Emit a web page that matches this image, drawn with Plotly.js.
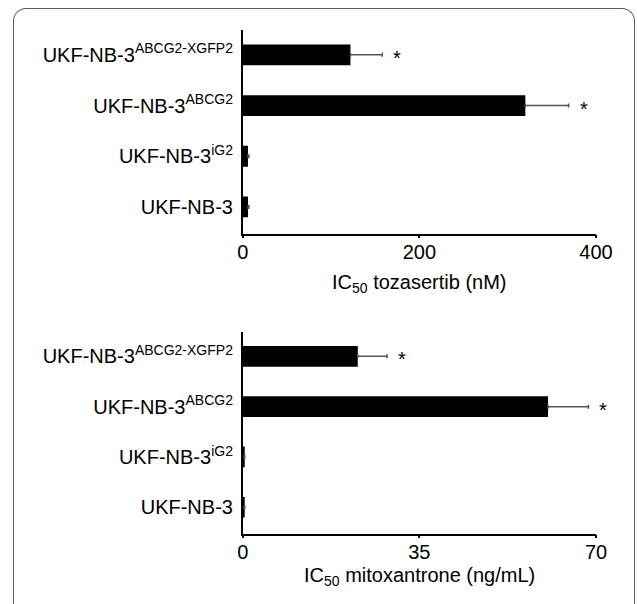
<!DOCTYPE html>
<html>
<head>
<meta charset="utf-8">
<script src="https://cdn.plot.ly/plotly-3.0.1.min.js"></script>
<style>
html, body { margin: 0; padding: 0; background: #fff; overflow: hidden; }
#wrap { position: relative; width: 637px; height: 604px; }
#frame { position: absolute; left: 13px; top: 8px; width: 620px; height: 700px;
  border: 1.5px solid #5e5e5e; border-bottom: none; border-radius: 13px 13px 0 0;
  pointer-events: none; box-sizing: content-box; z-index: 0; }
#chart { position: absolute; left: 0; top: 0; width: 637px; height: 604px; z-index: 1; }
</style>
</head>
<body>
<div id="wrap">
  <div id="frame"></div>
  <div id="chart"></div>
</div>
<script>
// Cell lines (bottom to top)
var cellLines = [
  'UKF-NB-3',
  'UKF-NB-3<sup>iG2</sup>',
  'UKF-NB-3<sup>ABCG2</sup>',
  'UKF-NB-3<sup>ABCG2-XGFP2</sup>'
];
// IC50 tozasertib (nM)
var tozasertib = [6, 6, 320, 122];
var tozasertibErr = [1, 1, 49, 36];
// IC50 mitoxantrone (ng/mL)
var mitoxantrone = [0.3, 0.3, 60.5, 22.8];
var mitoxantroneErr = [0.1, 0.1, 8, 5.8];
// significance flags
var significant = [false, false, true, true];

var tozTicks = [0, 200, 400];
var mitoTicks = [0, 35, 70];

var FONT = 'Arial, Liberation Sans, sans-serif';

function barTrace(vals, errs, xa, ya) {
  return {
    type: 'bar', orientation: 'h',
    y: cellLines, x: vals,
    xaxis: xa, yaxis: ya,
    width: 0.41,
    marker: { color: '#000000', line: { width: 0 } },
    error_x: {
      type: 'data', symmetric: false,
      array: errs, arrayminus: errs.map(function(){ return 0; }),
      color: '#555555', thickness: 1.5, width: 2
    },
    hoverinfo: 'x+y', showlegend: false
  };
}

var traces = [
  barTrace(tozasertib, tozasertibErr, 'x', 'y'),
  barTrace(mitoxantrone, mitoxantroneErr, 'x2', 'y2')
];

var annotations = [];
function addStars(vals, errs, xref, yref) {
  for (var i = 0; i < vals.length; i++) {
    if (!significant[i]) continue;
    annotations.push({
      xref: xref, yref: yref, x: vals[i] + errs[i], y: i,
      text: '*', showarrow: false, xanchor: 'left', yanchor: 'middle',
      xshift: 9, yshift: -3,
      font: { family: FONT, size: 20, color: '#000' }
    });
  }
}
addStars(tozasertib, tozasertibErr, 'x', 'y');
addStars(mitoxantrone, mitoxantroneErr, 'x2', 'y2');

annotations.push({
  xref: 'paper', yref: 'paper', x: 0.6583, y: 1 - 283 / 604,
  text: 'IC<sub>50</sub> tozasertib (nM)', showarrow: false,
  xanchor: 'center', yanchor: 'middle',
  font: { family: FONT, size: 20, color: '#000' }
});
annotations.push({
  xref: 'paper', yref: 'paper', x: 0.6583, y: 1 - 576 / 604,
  text: 'IC<sub>50</sub> mitoxantrone (ng/mL)', showarrow: false,
  xanchor: 'center', yanchor: 'middle',
  font: { family: FONT, size: 20, color: '#000' }
});

function xAxis(range, ticks, anchor) {
  return {
    domain: [242.7 / 637, 596 / 637], anchor: anchor,
    range: range, tickvals: ticks, ticktext: ticks.map(String),
    showgrid: false, zeroline: false,
    showline: true, linecolor: '#000', linewidth: 1.5,
    ticks: 'outside', ticklen: 3, tickwidth: 1.5, tickcolor: '#000',
    ticklabelstandoff: -3,
    tickfont: { family: FONT, size: 20, color: '#000' },
    fixedrange: true
  };
}
function yAxis(domain, anchor) {
  return {
    domain: domain, anchor: anchor, type: 'category',
    range: [-0.527, 3.49],
    showgrid: false, zeroline: false,
    showline: true, linecolor: '#000', linewidth: 1.5,
    ticks: '', ticklabelstandoff: 4,
    tickfont: { family: FONT, size: 20, color: '#000' },
    fixedrange: true
  };
}

var layout = {
  width: 637, height: 604,
  margin: { l: 0, r: 0, t: 0, b: 0 },
  paper_bgcolor: 'rgba(0,0,0,0)', plot_bgcolor: 'rgba(0,0,0,0)',
  font: { family: FONT, size: 20, color: '#000' },
  bargap: 0.59,
  xaxis: xAxis([0, 400], tozTicks, 'y'),
  yaxis: yAxis([1 - 233.7 / 604, 1 - 30 / 604], 'x'),
  xaxis2: xAxis([0, 70], mitoTicks, 'y2'),
  yaxis2: yAxis([1 - 533.7 / 604, 1 - 331.7 / 604], 'x2'),
  annotations: annotations,
  showlegend: false
};

Plotly.newPlot('chart', traces, layout, { displayModeBar: false });
</script>
</body>
</html>
